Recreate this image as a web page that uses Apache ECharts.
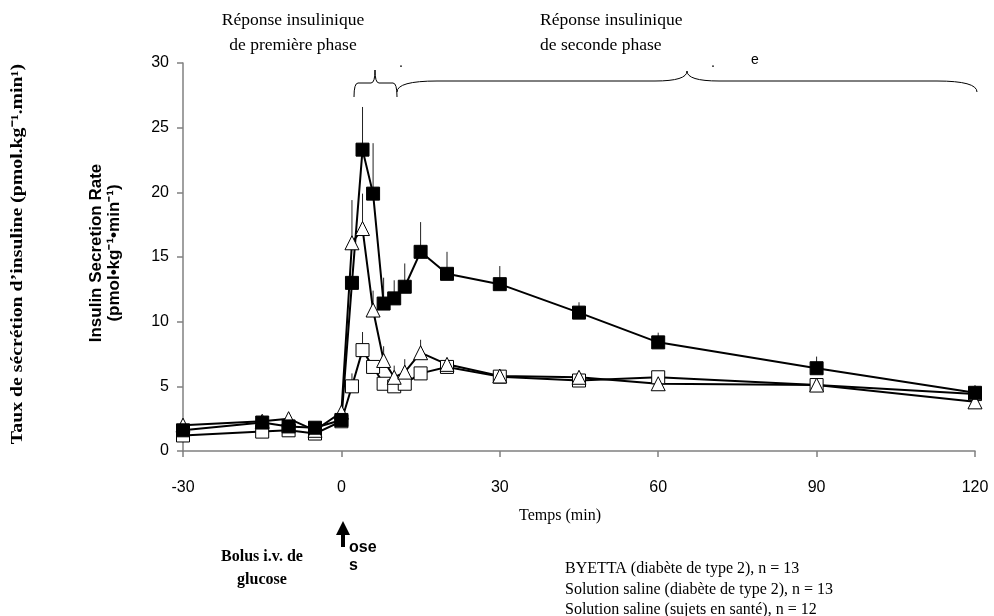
<!DOCTYPE html>
<html>
<head>
<meta charset="utf-8">
<script src="https://cdn.jsdelivr.net/npm/echarts@6/dist/echarts.min.js"></script>
<style>
  html, body { margin: 0; background: #fff; }
  #chart { width: 994px; height: 616px; }
</style>
</head>
<body>
<div id="chart"></div>
<script>
// temps (min) des prélèvements
const times = [-30, -15, -10, -5, 0, 2, 4, 6, 8, 10, 12, 15, 20, 30, 45, 60, 90, 120]
// BYETTA (diabète de type 2)
const byetta = [1.6, 2.2, 1.9, 1.8, 2.4, 13.0, 23.3, 19.9, 11.4, 11.8, 12.7, 15.4, 13.7, 12.9, 10.7, 8.4, 6.4, 4.5]
const byettaSem = [0, 0, 0, 0, 0, 0, 3.3, 3.9, 2.0, 1.4, 1.8, 2.3, 1.7, 1.4, 0.8, 0.75, 0.9, 0.6]
// Solution saline (diabète de type 2)
const salineT2 = [2.0, 2.3, 2.5, 1.6, 3.0, 16.1, 17.2, 10.9, 7.0, 5.7, 6.1, 7.6, 6.7, 5.8, 5.7, 5.2, 5.1, 3.8]
const salineT2Sem = [0, 0, 0, 0, 0, 3.3, 2.7, 1.5, 1.1, 0.9, 1.0, 1.0, 0, 0, 0, 0, 0, 0]
// Solution saline (sujets en santé)
const healthy = [1.2, 1.5, 1.6, 1.35, 2.3, 5.0, 7.8, 6.5, 5.2, 5.0, 5.2, 6.0, 6.5, 5.75, 5.45, 5.7, 5.1, 4.4]
const healthySem = [0, 0, 0, 0, 0, 1.0, 1.4, 0, 0, 0, 0, 0, 0, 0, 0, 0, 0, 0]

const legendLines = [
  'BYETTA (diabète de type 2), n = 13',
  'Solution saline (diabète de type 2), n = 13',
  'Solution saline (sujets en santé), n = 12'
]

const SERIF = 'Liberation Serif'
const SANS = 'Liberation Sans'

const chart = echarts.init(document.getElementById('chart'))

function pts(vals) {
  return times.map((t, i) => [t, vals[i]])
}

function errData(vals, sem) {
  return times.map((t, i) => [t, vals[i], sem[i]]).filter(d => d[2] > 0)
}

function errSeries(vals, sem) {
  return {
    type: 'custom',
    z: 1,
    silent: true,
    data: errData(vals, sem),
    renderItem(params, api) {
      const p = api.coord([api.value(0), api.value(1)])
      const top = api.coord([api.value(0), api.value(1) + api.value(2)])
      return {
        type: 'line',
        shape: { x1: p[0], y1: p[1], x2: top[0], y2: top[1] },
        style: { stroke: '#222', lineWidth: 1 }
      }
    }
  }
}

function lineSeries(name, vals, symbol, size, fill) {
  return {
    name: name,
    type: 'line',
    z: 3,
    data: pts(vals),
    symbol: symbol,
    symbolSize: size,
    showAllSymbol: true,
    lineStyle: { color: '#000', width: 2 },
    itemStyle: { color: fill, borderColor: '#000', borderWidth: 1 }
  }
}

// accolade horizontale pointe vers le haut
function brace(x1, x2, xm, yBase, yTip, yEnd, r, r2) {
  const st = { stroke: '#000', lineWidth: 1, fill: null }
  return [
    { type: 'bezierCurve', shape: { x1: x1, y1: yEnd, cpx1: x1, cpy1: yBase, x2: x1 + r, y2: yBase }, style: st },
    { type: 'line', shape: { x1: x1 + r, y1: yBase, x2: xm - r2, y2: yBase }, style: st },
    { type: 'bezierCurve', shape: { x1: xm - r2, y1: yBase, cpx1: xm, cpy1: yBase, x2: xm, y2: yTip }, style: st },
    { type: 'bezierCurve', shape: { x1: xm, y1: yTip, cpx1: xm, cpy1: yBase, x2: xm + r2, y2: yBase }, style: st },
    { type: 'line', shape: { x1: xm + r2, y1: yBase, x2: x2 - r, y2: yBase }, style: st },
    { type: 'bezierCurve', shape: { x1: x2 - r, y1: yBase, cpx1: x2, cpy1: yBase, x2: x2, y2: yEnd }, style: st }
  ]
}

function txt(text, x, y, font, size, weight, align, rot, sx) {
  return {
    type: 'text',
    x: x, y: y,
    rotation: rot || 0,
    scaleX: sx || 1,
    style: {
      text: text,
      fontFamily: font,
      fontSize: size,
      fontWeight: weight || 'normal',
      fill: '#000',
      align: align || 'center',
      verticalAlign: 'middle'
    }
  }
}

const graphics = [
  txt('Réponse insulinique', 293, 20, SERIF, 17.5),
  txt('de première phase', 293, 45, SERIF, 17.5),
  txt('Réponse insulinique', 540, 20, SERIF, 17.5, 'normal', 'left'),
  txt('de seconde phase', 540, 45, SERIF, 17.5, 'normal', 'left'),
  txt('.', 401, 63, SERIF, 14),
  txt('.', 713, 63, SERIF, 14),
  txt('e', 755, 60, SANS, 14),
  txt('Temps (min)', 560, 516, SERIF, 16),
  txt('Taux de sécrétion d\u2019insuline (pmol.kg\u207B\u00B9.min\u00B9)', 18, 254, SERIF, 16.5, 'bold', 'center', Math.PI / 2, 1.2),
  txt('Insulin Secretion Rate', 96, 253, SANS, 17, 'bold', 'center', Math.PI / 2),
  txt('(pmol\u2022kg\u207B\u00B9\u2022min\u207B\u00B9)', 114, 253, SANS, 17, 'bold', 'center', Math.PI / 2),
  txt('Bolus i.v. de', 262, 557, SERIF, 16, 'bold'),
  txt('glucose', 262, 580, SERIF, 16, 'bold'),
  txt('ose', 349, 548, SANS, 16, 'bold', 'left'),
  txt('s', 349, 566, SANS, 16, 'bold', 'left'),
  // flèche du bolus
  { type: 'polygon', shape: { points: [[343, 521], [336, 535], [350, 535]] }, style: { fill: '#000' } },
  { type: 'rect', shape: { x: 341, y: 533, width: 4, height: 14 }, style: { fill: '#000' } }
]
legendLines.forEach((l, i) => {
  graphics.push(txt(l, 565, 569 + i * 20.5, SERIF, 16, 'normal', 'left'))
})
brace(354, 397, 375, 83, 70, 97, 4, 4).forEach(g => graphics.push(g))
brace(397, 977, 687, 81, 71, 92, 40, 32).forEach(g => graphics.push(g))

const axisCommon = {
  axisTick: { show: true, length: 6, lineStyle: { color: '#808080', width: 1.5 } },
  splitLine: { show: false }
}

chart.setOption({
  animation: false,
  grid: { left: 183, right: 19, top: 63, bottom: 165 },
  xAxis: Object.assign({
    type: 'value',
    min: -30,
    max: 120,
    interval: 30,
    axisLine: { onZero: false, lineStyle: { color: '#808080', width: 1.5 } },
    axisLabel: { fontFamily: SANS, fontSize: 16, color: '#000', margin: 29 }
  }, axisCommon),
  yAxis: Object.assign({
    type: 'value',
    min: 0,
    max: 30,
    interval: 5,
    axisLine: { show: true, onZero: false, lineStyle: { color: '#808080', width: 1.5 } },
    axisLabel: { fontFamily: SANS, fontSize: 16, color: '#000', margin: 14 }
  }, axisCommon),
  series: [
    errSeries(healthy, healthySem),
    errSeries(salineT2, salineT2Sem),
    errSeries(byetta, byettaSem),
    lineSeries(legendLines[2], healthy, 'rect', 13, '#fff'),
    lineSeries(legendLines[1], salineT2, 'triangle', 14, '#fff'),
    lineSeries(legendLines[0], byetta, 'rect', 13, '#000')
  ],
  graphic: graphics
})
</script>
</body>
</html>
